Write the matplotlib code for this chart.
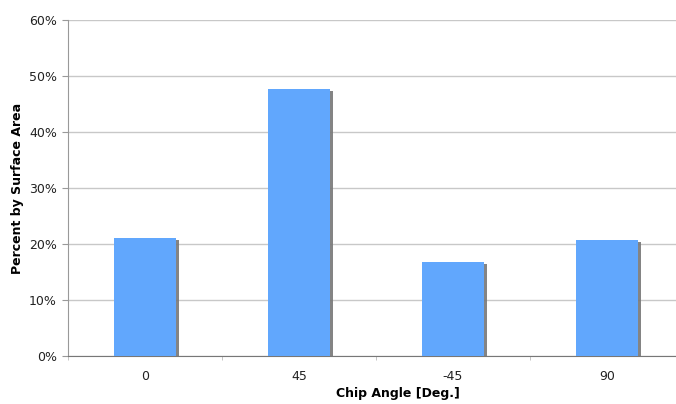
import matplotlib
matplotlib.use("Agg")
import matplotlib.pyplot as plt
import matplotlib.patheffects as pe
from matplotlib.ticker import FixedLocator, PercentFormatter

categories = ["0", "45", "-45", "90"]
values = [21.1, 47.7, 16.8, 20.7]
yticks = [0, 10, 20, 30, 40, 50, 60]

fig = plt.figure(figsize=(6.76, 4.04), dpi=100)
ax = fig.add_axes([68/676, 1 - 356/404, (684-68)/676, (356-20)/404])

x = list(range(len(categories)))
bars = ax.bar(x, values, width=0.4, color="#61a7fd", zorder=3,
              path_effects=[pe.SimplePatchShadow(offset=(2.2, -1.6), shadow_rgbFace="#777777", alpha=0.9), pe.Normal()])

ax.set_xlim(-0.5, len(categories) - 0.5)
ax.set_ylim(0, 60)
ax.set_yticks(yticks)
ax.yaxis.set_major_formatter(PercentFormatter(decimals=0))
ax.set_xticks(x)
ax.set_xticklabels(categories)
ax.xaxis.set_minor_locator(FixedLocator([i + 0.5 for i in range(-1, len(categories))]))
ax.tick_params(axis="x", which="major", length=0, pad=10, labelsize=9, colors="#222222")
ax.tick_params(axis="x", which="minor", length=3, color="#bbbbbb")
ax.tick_params(axis="y", length=4, color="#999999", labelsize=9, labelcolor="#222222", pad=4)

ax.grid(axis="y", color="#c8c8c8", linewidth=1.0, zorder=0)
for s in ["top", "right"]:
    ax.spines[s].set_visible(False)
ax.spines["left"].set_color("#999999")
ax.spines["bottom"].set_color("#777777")

ax.set_ylabel("Percent by Surface Area", fontsize=9, fontweight="bold")
ax.yaxis.set_label_coords((24-68)/(684-68), 0.5)
ax.set_xlabel("Chip Angle [Deg.]", fontsize=9, fontweight="bold")
ax.xaxis.set_label_coords((398-68)/(684-68), -31/336)

fig.savefig("out.png", dpi=100)
